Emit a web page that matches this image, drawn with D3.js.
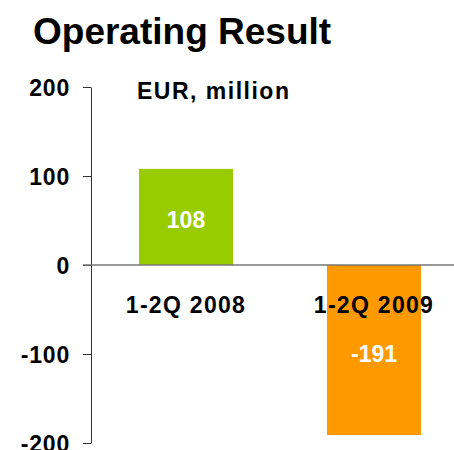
<!DOCTYPE html>
<html>
<head>
<meta charset="utf-8">
<script src="https://cdn.jsdelivr.net/npm/d3@7"></script>
<style>
  body { margin: 0; background: #fff; }
  text { font-family: "Liberation Sans", Arial, sans-serif; font-weight: bold; }
</style>
</head>
<body>
<div id="chart"></div>
<script>
var categories = ["1-2Q 2008", "1-2Q 2009"];
var values = [108, -191];
var barColors = ["#99cc00", "#ff9900"];
var yTicks = [-200, -100, 0, 100, 200];

var width = 454, height = 450;

var svg = d3.select("#chart").append("svg")
    .attr("width", width).attr("height", height);

var y = d3.scaleLinear().domain([-200, 200]).range([443, 87]);
var x = d3.scaleBand().domain(categories).range([45, 515]).paddingInner(0.5).paddingOuter(0.5);

// title
svg.append("text")
    .attr("x", 33).attr("y", 44)
    .style("font-size", "37px")
    .text("Operating Result");

svg.append("text")
    .attr("x", 137).attr("y", 99)
    .style("font-size", "23px")
    .style("letter-spacing", "1.5px")
    .text("EUR, million");

// bars
svg.selectAll(".bar").data(values).enter()
    .append("rect")
    .attr("class", "bar")
    .attr("x", function(d, i){ return x(categories[i]); })
    .attr("width", x.bandwidth())
    .attr("y", function(d){ return y(Math.max(0, d)); })
    .attr("height", function(d){ return Math.abs(y(d) - y(0)); })
    .style("fill", function(d, i){ return barColors[i]; });

// y axis
var yAxis = d3.axisLeft(y).tickValues(yTicks)
    .tickFormat(function(d){ return String(d); })
    .tickSize(8).tickPadding(13).tickSizeOuter(0);
var ga = svg.append("g").attr("transform", "translate(91,0)").call(yAxis);
ga.select(".domain").attr("stroke", "#333");
ga.selectAll(".tick line").attr("stroke", "#333");
ga.selectAll(".tick text")
    .attr("fill", "#000")
    .attr("dy", "0.36em")
    .style("font-size", "23px")
    .style("font-family", "'Liberation Sans', Arial, sans-serif")
    .style("font-weight", "bold")
    .style("letter-spacing", "0.8px");

// zero line
svg.append("line")
    .attr("x1", 83).attr("x2", width)
    .attr("y1", y(0)).attr("y2", y(0))
    .attr("stroke", "#777").attr("stroke-width", 1.5);

// category labels
svg.selectAll(".cat").data(categories).enter()
    .append("text")
    .attr("class", "cat")
    .attr("x", function(d){ return x(d) + x.bandwidth() / 2; })
    .attr("y", y(0) + 48)
    .attr("text-anchor", "middle")
    .style("font-size", "23px")
    .style("letter-spacing", "1.3px")
    .text(function(d){ return d; });

// value labels
svg.selectAll(".val").data(values).enter()
    .append("text")
    .attr("class", "val")
    .attr("x", function(d, i){ return x(categories[i]) + x.bandwidth() / 2; })
    .attr("y", function(d){ return y(d / 2) + (d > 0 ? 11 : 12); })
    .attr("text-anchor", "middle")
    .attr("fill", "#fff")
    .style("font-size", "23px")
    .text(function(d){ return d; });
</script>
</body>
</html>
